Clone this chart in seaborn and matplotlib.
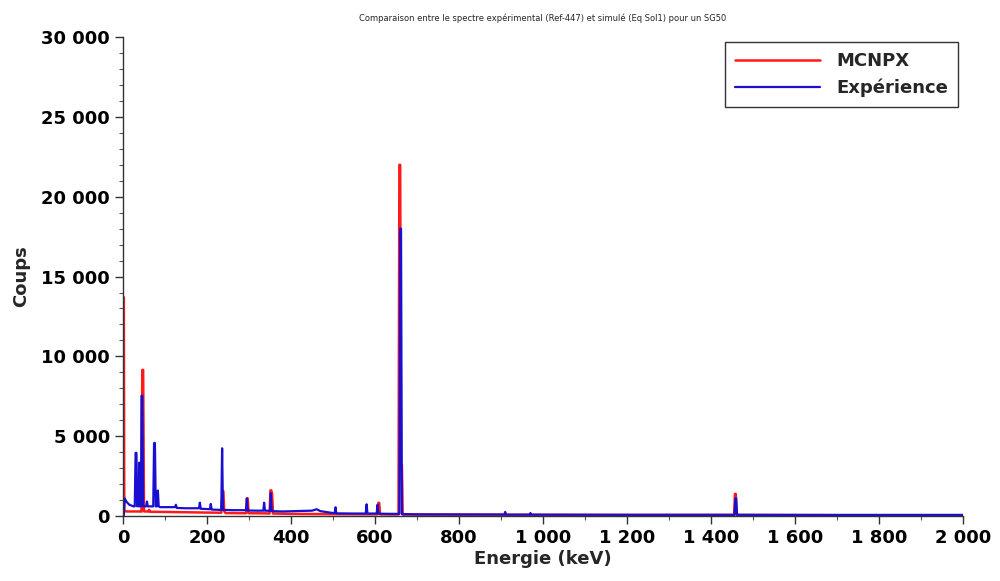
import matplotlib
matplotlib.use("Agg")
import matplotlib.pyplot as plt
import seaborn as sns
from matplotlib.ticker import FuncFormatter, MultipleLocator

# Spectre simulé (MCNPX) : énergies (keV) et coups
mcnpx_e = [0, 1, 2, 3, 10, 40,
           44, 46, 48, 50, 60,
           62, 64, 66, 100, 150, 200, 234,
           237, 239, 241, 244, 280, 293,
           295, 297, 299, 340, 349,
           351, 353, 355, 357, 400, 500, 600,
           606, 608, 610, 612, 614, 640, 656,
           658, 660, 662, 664, 666, 668, 700, 900,
           1200, 1455, 1457, 1459, 1461, 1463, 1700, 2000]
mcnpx_c = [0, 13700, 13700, 300, 280, 280,
           270, 9150, 9150, 280, 280,
           380, 260, 260, 250, 230, 210, 200,
           1550, 1550, 300, 180, 170, 170,
           1100, 1100, 170, 160, 150,
           1600, 1600, 1400, 150, 130, 110, 100,
           100, 820, 820, 100, 100, 90, 90,
           22000, 22000, 3200, 3200, 90, 80, 80, 70,
           60, 60, 1380, 1380, 60, 60, 50, 50]

# Spectre expérimental
exp_e = [0, 2, 4, 8, 15, 25,
         28, 30, 32, 34, 36, 38,
         39, 41, 43, 44, 46, 48, 50,
         55, 57, 59, 65, 72,
         74, 76, 78, 81, 83, 85, 88,
         100, 124, 126, 128, 150,
         181, 183, 185, 207, 209, 211,
         230, 234, 236, 238, 260,
         293, 295, 297, 320, 334,
         336, 338, 350, 352, 354, 380,
         450, 461, 470, 500, 504,
         506, 508, 550, 578, 580, 582,
         604, 606, 608, 640, 658,
         660, 662, 664, 700, 900,
         908, 910, 912, 968, 970, 972,
         1200, 1456, 1458, 1460, 1462, 1700, 2000]
exp_c = [0, 0, 1100, 900, 700, 600,
         600, 3950, 3950, 600, 1630, 600,
         3340, 600, 600, 7530, 7530, 600, 600,
         600, 900, 600, 600, 600,
         4570, 4570, 600, 600, 1590, 600, 550,
         550, 550, 700, 500, 480,
         480, 830, 450, 420, 750, 400,
         380, 380, 4240, 380, 360,
         360, 1100, 340, 330, 330,
         830, 330, 320, 1420, 300, 280,
         330, 420, 300, 180, 180,
         540, 160, 150, 150, 730, 150,
         150, 700, 140, 130, 130,
         18000, 18000, 120, 100, 90,
         90, 250, 80, 80, 180, 80,
         70, 70, 1100, 1100, 70, 60, 60]

sns.set_style("white")
plt.rcParams['font.family'] = ['DejaVu Sans']

fig = plt.figure(figsize=(10, 5.81), dpi=100)
ax = fig.add_axes([0.123, 0.112, 0.840, 0.824])

sns.lineplot(x=mcnpx_e, y=mcnpx_c, ax=ax, color='#ff1a1a', linewidth=1.8,
             estimator=None, sort=False, label='MCNPX')
sns.lineplot(x=exp_e, y=exp_c, ax=ax, color='#1a0fd0', linewidth=1.6,
             estimator=None, sort=False, label='Expérience')

ax.set_xlim(0, 2000)
ax.set_ylim(0, 30000)
ax.xaxis.set_major_locator(MultipleLocator(200))
ax.xaxis.set_minor_locator(MultipleLocator(100))
ax.yaxis.set_major_locator(MultipleLocator(5000))
ax.yaxis.set_minor_locator(MultipleLocator(1000))

fmt = FuncFormatter(lambda v, p: f"{int(v):,}".replace(",", " "))
ax.xaxis.set_major_formatter(fmt)
ax.yaxis.set_major_formatter(fmt)

ax.tick_params(axis='both', which='major', direction='out', length=6, width=1,
               labelsize=13, bottom=True, left=True, colors='#333333',
               labelcolor='black')
ax.tick_params(axis='both', which='minor', direction='out', length=3, width=0.8,
               bottom=True, left=True, colors='#555555')
for lab in ax.get_xticklabels() + ax.get_yticklabels():
    lab.set_fontweight('bold')

sns.despine(ax=ax)
for s in ['left', 'bottom']:
    ax.spines[s].set_color('#333333')
    ax.spines[s].set_linewidth(1)

ax.set_xlabel("Energie (keV)", fontsize=13, fontweight='bold', labelpad=2)
ax.set_ylabel("Coups", fontsize=13, fontweight='bold', labelpad=8)
ax.set_title("Comparaison entre le spectre expérimental (Ref-447) et simulé (Eq Sol1) pour un SG50",
             fontsize=6, pad=12)

leg = ax.legend(loc='upper right', fontsize=13, handlelength=4.7,
                handletextpad=0.9, fancybox=False, framealpha=1,
                borderpad=0.55, borderaxespad=0, bbox_to_anchor=(0.994, 0.99))
leg.get_frame().set_edgecolor('#333333')
for t in leg.get_texts():
    t.set_fontweight('bold')

fig.savefig("out.png", dpi=100)
